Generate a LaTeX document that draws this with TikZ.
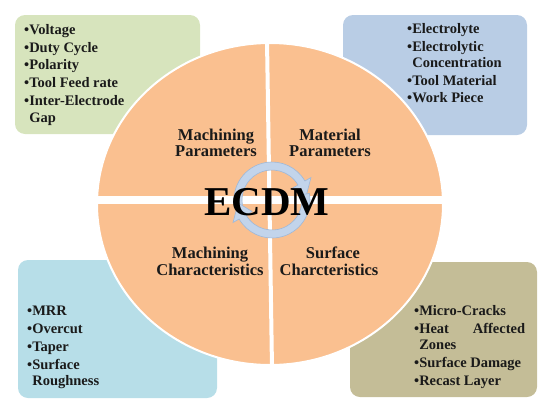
\documentclass[tikz,border=0pt]{standalone}
\usepackage{fontspec}
\setmainfont{Liberation Serif}
\usetikzlibrary{calc}
\definecolor{boxgreen}{HTML}{D7E4BD}
\definecolor{boxblue}{HTML}{B9CDE5}
\definecolor{boxcyan}{HTML}{B7DEE8}
\definecolor{boxkhaki}{HTML}{C4BD97}
\definecolor{wheel}{HTML}{FAC090}
\definecolor{arrowfill}{HTML}{C2D4EB}
\definecolor{arrowline}{HTML}{9FB8D8}
\definecolor{txt}{HTML}{1A1A1A}
\tikzset{
  panel/.style={rounded corners=10pt},
  item/.style={anchor=base west, inner sep=0pt, font=\fontsize{14.5}{17}\selectfont\bfseries, text=txt},
  qlabel/.style={anchor=base, inner sep=0pt, font=\fontsize{16.5}{19}\selectfont\bfseries, text=txt},
  cyclearrow/.style={fill=arrowfill, draw=arrowline, line width=0.6pt},
}
\newcommand{\indt}{\hspace*{5.1pt}}
\begin{document}
\begin{tikzpicture}[x=1pt,y=-1pt]
\useasboundingbox (0,0) rectangle (550,408);
% panels
\fill[boxgreen, panel] (15,15) rectangle (200,134);
\fill[boxblue, panel] (343,15) rectangle (527,135);
\fill[boxcyan, panel] (18,260) rectangle (217,398);
\fill[boxkhaki, panel] (350,262) rectangle (537,397);
% wheel
\fill[wheel, draw=white, line width=2pt] (270,204) ellipse [x radius=173, y radius=161];
\coordinate (vt) at (267,40);
\coordinate (vb) at (272,368);
\coordinate (hl) at (94,200);
\coordinate (hr) at (446,200);
\draw[white, line width=4pt] (vt) -- (vb);
\draw[white, line width=8.5pt] (hl) -- (hr);
% cycle arrows
\coordinate (c) at (272,200);
\filldraw[cyclearrow] ($(c)+(170:38)$) arc (170:330:38) -- ($(c)+(330:45)$) -- ($(c)+(355:34)$) -- ($(c)+(330:23)$) -- ($(c)+(330:30)$) arc (330:170:30) -- cycle;
\filldraw[cyclearrow] ($(c)+(350:38)$) arc (350:510:38) -- ($(c)+(510:45)$) -- ($(c)+(535:34)$) -- ($(c)+(510:23)$) -- ($(c)+(510:30)$) arc (510:350:30) -- cycle;
\node[anchor=base, inner sep=0pt, font=\fontsize{41}{44}\selectfont\bfseries] (ecdm) at (267,215) {ECDM};
% quadrant labels
\node[qlabel] (mp1) at (216,140) {Machining};
\node[qlabel] (mp2) at (216,156.5) {Parameters};
\node[qlabel] (mt1) at (330,140) {Material};
\node[qlabel] (mt2) at (330,156.5) {Parameters};
\node[qlabel] (mc1) at (210,258) {Machining};
\node[qlabel] (mc2) at (210,275) {Characteristics};
\node[qlabel] (sc1) at (333,258) {Surface};
\node[qlabel] (sc2) at (329,275) {Charcteristics};
% green list
\node[item] (g1) at (24,34) {•Voltage};
\node[item] (g2) at (24,52) {•Duty Cycle};
\node[item] (g3) at (24,69.5) {•Polarity};
\node[item] (g4) at (24,87) {•Tool Feed rate};
\node[item] (g5) at (24,105) {•Inter-Electrode};
\node[item] (g6) at (24,122) {\indt Gap};
% blue list
\node[item] (b1) at (407,33) {•Electrolyte};
\node[item] (b2) at (407,51) {•Electrolytic};
\node[item] (b3) at (407,67.5) {\indt Concentration};
\node[item] (b4) at (407,85) {•Tool Material};
\node[item] (b5) at (407,102) {•Work Piece};
% cyan list
\node[item] (c1) at (27,315) {•MRR};
\node[item] (c2) at (27,333) {•Overcut};
\node[item] (c3) at (27,351) {•Taper};
\node[item] (c4) at (27,369) {•Surface};
\node[item] (c5) at (27,385.5) {\indt Roughness};
% khaki list
\node[item] (k1) at (414,315) {•Micro-Cracks};
\node[item] (k2) at (414,333) {\makebox[111pt][l]{•Heat\hfill Affected}};
\node[item] (k3) at (414,349.5) {\indt Zones};
\node[item] (k4) at (414,367) {•Surface Damage};
\node[item] (k5) at (414,385) {•Recast Layer};
\end{tikzpicture}
\end{document}
